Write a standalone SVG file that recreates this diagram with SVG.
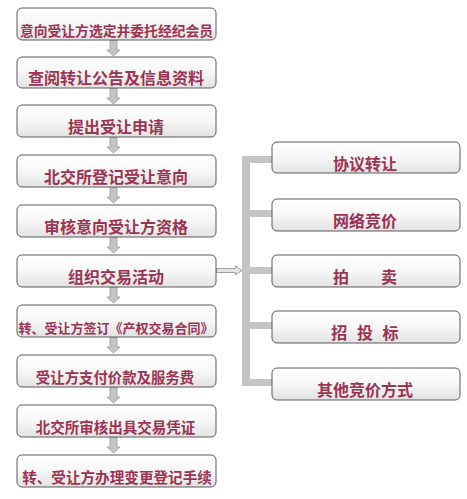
<svg xmlns="http://www.w3.org/2000/svg" width="467" height="499" viewBox="0 0 467 499">
<defs>
<linearGradient id="g" x1="0" y1="0" x2="0" y2="1">
<stop offset="0" stop-color="#ffffff"/>
<stop offset="0.5" stop-color="#f7f7f7"/>
<stop offset="1" stop-color="#e2e2e2"/>
</linearGradient>
<path id="da" d="M110,0 h7 v10 h3 l-6.5,6 l-6.5,-6 h3 z"/>
</defs>
<style>
.box{fill:url(#g);stroke:#5a5a5a;stroke-width:1}
.t{font-family:"Noto Sans CJK SC","Noto Sans",sans-serif;font-weight:bold;fill:#9b3352;text-anchor:middle}
.arr{fill:#c4c4c4;stroke:#9a9a9a;stroke-width:0.8}
.br{fill:#c4c4c4}
</style>
<rect width="467" height="499" fill="#ffffff"/>
<g id="connectors">
<use href="#da" class="arr" y="40"/>
<use href="#da" class="arr" y="88"/>
<use href="#da" class="arr" y="137"/>
<use href="#da" class="arr" y="187"/>
<use href="#da" class="arr" y="237"/>
<use href="#da" class="arr" y="287"/>
<use href="#da" class="arr" y="337"/>
<use href="#da" class="arr" y="387"/>
<use href="#da" class="arr" y="437"/>
<path d="M216.5,268.5 h19 v-2.5 l6.5,4.5 l-6.5,4.5 v-2.5 h-19 z" fill="#e4e4e4" stroke="#8a8a8a" stroke-width="0.8"/>
<rect class="br" x="242" y="156" width="8" height="230"/>
<rect class="br" x="242" y="156" width="30" height="7"/>
<rect class="br" x="242" y="210" width="30" height="7"/>
<rect class="br" x="242" y="267" width="30" height="7"/>
<rect class="br" x="242" y="322" width="30" height="7"/>
<rect class="br" x="242" y="379" width="30" height="7"/>
</g>
<g id="n1"><rect class="box" x="17" y="8" width="199" height="32" rx="5"/><text class="t" x="116.5" y="36" font-size="13.8">意向受让方选定并委托经纪会员</text></g>
<g id="n2"><rect class="box" x="17" y="57" width="199" height="31" rx="5"/><text class="t" x="116" y="84" font-size="16">查阅转让公告及信息资料</text></g>
<g id="n3"><rect class="box" x="17" y="105" width="199" height="32" rx="5"/><text class="t" x="116" y="133" font-size="16">提出受让申请</text></g>
<g id="n4"><rect class="box" x="17" y="155" width="199" height="32" rx="5"/><text class="t" x="116" y="183" font-size="16">北交所登记受让意向</text></g>
<g id="n5"><rect class="box" x="17" y="205" width="199" height="32" rx="5"/><text class="t" x="116" y="233" font-size="16">审核意向受让方资格</text></g>
<g id="n6"><rect class="box" x="17" y="255" width="199" height="32" rx="5"/><text class="t" x="116" y="283" font-size="16">组织交易活动</text></g>
<g id="n7"><rect class="box" x="17" y="305" width="199" height="32" rx="5"/><text class="t" x="116" y="333" font-size="13">转、受让方签订《产权交易合同》</text></g>
<g id="n8"><rect class="box" x="17" y="355" width="199" height="32" rx="5"/><text class="t" x="115" y="383" font-size="14.4">受让方支付价款及服务费</text></g>
<g id="n9"><rect class="box" x="17" y="405" width="199" height="32" rx="5"/><text class="t" x="115.5" y="433" font-size="14.5">北交所审核出具交易凭证</text></g>
<g id="n10"><rect class="box" x="17" y="455" width="199" height="32" rx="5"/><text class="t" x="117" y="483" font-size="14.6">转、受让方办理变更登记手续</text></g>
<g id="r1"><rect class="box" x="272" y="142" width="188" height="31" rx="5"/><text class="t" x="365" y="170" font-size="16">协议转让</text></g>
<g id="r2"><rect class="box" x="272" y="199" width="188" height="32" rx="5"/><text class="t" x="365" y="227" font-size="16">网络竞价</text></g>
<g id="r3"><rect class="box" x="272" y="255" width="188" height="32" rx="5"/><text class="t" x="365" y="283" font-size="16">拍　　卖</text></g>
<g id="r4"><rect class="box" x="272" y="311" width="188" height="32" rx="5"/><text class="t" x="365" y="339" font-size="16" word-spacing="6">招 投 标</text></g>
<g id="r5"><rect class="box" x="272" y="368" width="188" height="32" rx="5"/><text class="t" x="365" y="396" font-size="16">其他竞价方式</text></g>
</svg>
